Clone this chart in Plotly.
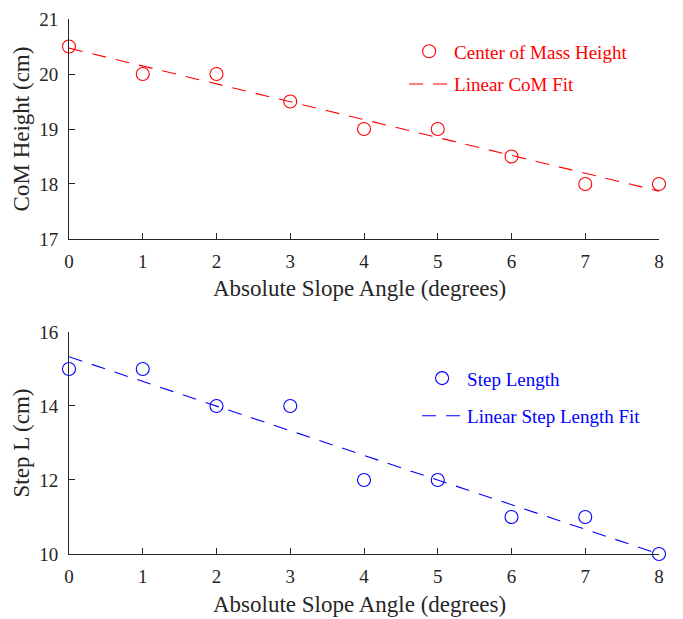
import plotly.graph_objects as go
from plotly.subplots import make_subplots

angles = [0, 1, 2, 3, 4, 5, 6, 7, 8]
com_height = [20.5, 20, 20, 19.5, 19, 19, 18.5, 18, 18]
step_length = [15, 15, 14, 14, 12, 12, 11, 11, 10]
fit_x = [0, 8]
com_fit = [20.47, 17.87]
step_fit = [15.33, 10.0]
x_title = "Absolute Slope Angle (degrees)"

FONT = "Liberation Serif"
RED = "#ff0000"
BLUE = "#0000ff"
AX = "#262626"

fig = make_subplots(rows=2, cols=1)

fig.add_trace(go.Scatter(x=angles, y=com_height, mode="markers", name="Center of Mass Height",
                         marker=dict(symbol="circle-open", size=13, color=RED, line=dict(width=1.1)),
                         cliponaxis=False, legend="legend", legendgroup="a"), row=1, col=1)
fig.add_trace(go.Scatter(x=fit_x, y=com_fit, mode="lines", name="Linear CoM Fit",
                         line=dict(color=RED, width=1.1, dash="14px,10px"),
                         cliponaxis=False, legend="legend", legendgroup="b"), row=1, col=1)
fig.add_trace(go.Scatter(x=angles, y=step_length, mode="markers", name="Step Length",
                         marker=dict(symbol="circle-open", size=13, color=BLUE, line=dict(width=1.1)),
                         cliponaxis=False, legend="legend2", legendgroup="c"), row=2, col=1)
fig.add_trace(go.Scatter(x=fit_x, y=step_fit, mode="lines", name="Linear Step Length Fit",
                         line=dict(color=BLUE, width=1.1, dash="14px,10px"),
                         cliponaxis=False, legend="legend2", legendgroup="d"), row=2, col=1)

axis_common = dict(showline=True, linecolor=AX, linewidth=1, ticks="inside", ticklen=6,
                   tickcolor=AX, showgrid=False, zeroline=False, mirror=False, automargin=False,
                   tickfont=dict(family=FONT, size=19, color=AX))
title_font = dict(family=FONT, size=23, color=AX)

for r in (1, 2):
    fig.update_xaxes(range=[0, 8], dtick=1, tick0=0, row=r, col=1, ticklabelstandoff=5,
                     **axis_common)

fig.update_yaxes(range=[17, 21], dtick=1, row=1, col=1, ticklabelstandoff=6,
                 title=dict(text="CoM Height (cm)", font=title_font, standoff=3),
                 **axis_common)
fig.update_yaxes(range=[10, 16], dtick=2, row=2, col=1, ticklabelstandoff=6,
                 title=dict(text="Step L (cm)", font=title_font, standoff=3),
                 **axis_common)

for xr, yr in (("x", "y"), ("x2", "y2")):
    fig.add_annotation(text=x_title, xref=f"{xr} domain", yref=f"{yr} domain", x=0.5, y=0,
                       xanchor="center", yanchor="middle", xshift=-5, yshift=-50,
                       showarrow=False, font=title_font)

fig.update_layout(
    width=667, height=611,
    margin=dict(l=61, r=16, t=11, b=65),
    plot_bgcolor="white", paper_bgcolor="white",
    xaxis=dict(domain=[0, 1]),
    xaxis2=dict(domain=[0, 1]),
    yaxis=dict(domain=[0.5888, 1.0]),
    yaxis2=dict(domain=[0.0, 0.415]),
    legend=dict(x=0.568, y=0.975, xanchor="left", yanchor="top", bgcolor="rgba(0,0,0,0)",
                font=dict(family=FONT, size=19, color=RED), tracegroupgap=5, traceorder="grouped",
                itemwidth=40),
    legend2=dict(x=0.59, y=0.364, xanchor="left", yanchor="top", bgcolor="rgba(0,0,0,0)",
                 font=dict(family=FONT, size=19, color=BLUE), tracegroupgap=10, traceorder="grouped",
                 itemwidth=40),
)

fig.write_html("out.html")
